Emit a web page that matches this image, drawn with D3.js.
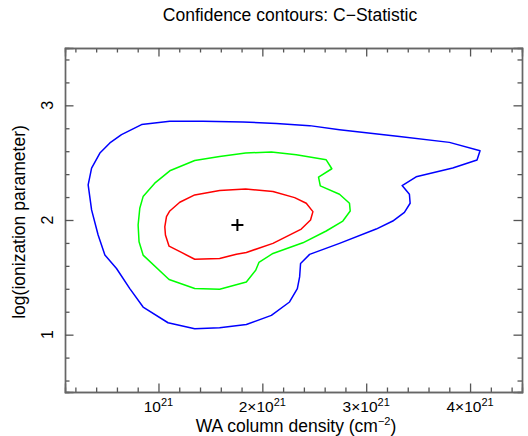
<!DOCTYPE html>
<html>
<head>
<meta charset="utf-8">
<script src="https://cdn.jsdelivr.net/npm/d3@7"></script>
<style>
  body { margin: 0; background: #fff; }
  text { font-family: "Liberation Sans", Arial, Helvetica, sans-serif; fill: #000; }
  .frame .domain { stroke: #666; stroke-width: 1.4; }
  .frame .tick line { stroke: #555; stroke-width: 1.3; }
</style>
</head>
<body>
<svg data-chart></svg>
<script>
// column density in units of 1e21 cm^-2, y = log(ionization parameter)
const bestFit = [1.76, 1.956];

const redX = [1.349, 1.589, 1.839, 2.102, 2.311, 2.423, 2.487, 2.464, 2.375, 2.102, 1.846, 1.750, 1.589, 1.349, 1.221, 1.102, 1.067, 1.061, 1.077, 1.109, 1.205];
const redY = [2.219, 2.257, 2.271, 2.248, 2.195, 2.146, 2.073, 2.000, 1.921, 1.796, 1.717, 1.702, 1.665, 1.658, 1.717, 1.772, 1.869, 1.941, 2.029, 2.079, 2.155];

const greenX = [0.852, 0.964, 1.109, 1.349, 1.589, 1.839, 2.087, 2.327, 2.615, 2.669, 2.541, 2.558, 2.743, 2.839, 2.846, 2.775, 2.615, 2.390, 2.102, 1.967, 1.936, 1.846, 1.589, 1.349, 1.102, 0.852, 0.813, 0.804, 0.820];
const greenY = [2.204, 2.321, 2.429, 2.519, 2.554, 2.584, 2.593, 2.569, 2.525, 2.447, 2.374, 2.298, 2.225, 2.146, 2.079, 1.991, 1.904, 1.801, 1.708, 1.630, 1.562, 1.460, 1.396, 1.402, 1.481, 1.694, 1.810, 1.956, 2.102];

const blueX = [2.455, 2.743, 3.320, 3.801, 4.096, 4.067, 3.833, 3.481, 3.346, 3.416, 3.423, 3.368, 3.256, 3.096, 2.743, 2.455, 2.368, 2.359, 2.337, 2.262, 2.087, 1.846, 1.589, 1.349, 1.092, 0.852, 0.724, 0.596, 0.484, 0.419, 0.356, 0.323, 0.356, 0.436, 0.532, 0.644, 0.837, 1.109, 1.429, 1.813, 2.135];
const blueY = [2.823, 2.788, 2.729, 2.677, 2.604, 2.523, 2.453, 2.377, 2.300, 2.225, 2.146, 2.067, 1.991, 1.921, 1.796, 1.700, 1.621, 1.504, 1.402, 1.285, 1.168, 1.089, 1.060, 1.052, 1.104, 1.241, 1.402, 1.577, 1.694, 1.869, 2.088, 2.306, 2.453, 2.584, 2.672, 2.744, 2.832, 2.861, 2.861, 2.855, 2.841];

const xMajor = [1, 2, 3, 4];
const yMajor = [1, 2, 3];
const xMinor = d3.range(1, 23).map(i => +(i * 0.2).toFixed(1)).filter(v => !xMajor.includes(v));
const yMinor = d3.range(3, 18).map(i => +(i * 0.2).toFixed(1)).filter(v => !yMajor.includes(v));

const margin = {top: 48, right: 6, bottom: 44, left: 65};
const width = 528 - margin.left - margin.right;
const height = 436 - margin.top - margin.bottom;

const svg = d3.select('[data-chart]')
  .attr('width', 528)
  .attr('height', 436);

const chart = svg.append('g')
  .attr('transform', `translate(${margin.left}, ${margin.top})`);

const x = d3.scaleLinear().domain([0.1, 4.5]).range([0, width]);
const y = d3.scaleLinear().domain([0.5, 3.5]).range([height, 0]);

// frame: four axes with ticks pointing inwards
function frame(axis, scale, minor, major, g) {
  g.append('g').call(axis(scale).tickValues(minor).tickSize(-4.5).tickFormat(''));
  g.append('g').call(axis(scale).tickValues(major).tickSize(-8.5).tickFormat(''));
}

const axisB = chart.append('g').attr('class', 'frame').attr('transform', `translate(0, ${height})`);
frame(d3.axisBottom, x, xMinor, xMajor, axisB);
const axisT = chart.append('g').attr('class', 'frame');
frame(d3.axisTop, x, xMinor, xMajor, axisT);
const axisL = chart.append('g').attr('class', 'frame');
frame(d3.axisLeft, y, yMinor, yMajor, axisL);
const axisR = chart.append('g').attr('class', 'frame').attr('transform', `translate(${width}, 0)`);
frame(d3.axisRight, y, yMinor, yMajor, axisR);

// tick labels
axisB.selectAll('.xlab')
    .data(xMajor)
  .enter().append('text')
    .attr('class', 'xlab')
    .attr('x', d => x(d))
    .attr('y', 20)
    .style('text-anchor', 'middle')
    .style('font-size', '15.5px')
    .each(function(d) {
      const t = d3.select(this);
      t.append('tspan').text(d === 1 ? '10' : d + '×10');
      t.append('tspan').attr('dy', -6).style('font-size', '11px').text('21');
    });

axisL.selectAll('.ylab')
    .data(yMajor)
  .enter().append('text')
    .attr('class', 'ylab')
    .attr('transform', d => `translate(-12, ${y(d)}) rotate(-90)`)
    .style('text-anchor', 'middle')
    .style('font-size', '16px')
    .text(d => d);

// contours
const line = d3.line()
  .x(d => x(d[0]))
  .y(d => y(d[1]))
  .curve(d3.curveLinearClosed);

const contours = [
  {xs: blueX, ys: blueY, color: '#0000ff'},
  {xs: greenX, ys: greenY, color: '#00ff00'},
  {xs: redX, ys: redY, color: '#ff0000'}
];

chart.selectAll('.contour')
    .data(contours)
  .enter().append('path')
    .attr('class', 'contour')
    .attr('d', c => line(c.xs.map((v, i) => [v, c.ys[i]])))
    .attr('fill', 'none')
    .attr('stroke', c => c.color)
    .attr('stroke-width', 1.5)
    .attr('stroke-linejoin', 'round');

chart.append('path')
  .attr('d', 'M-6,0H6M0,-6V6')
  .attr('transform', `translate(${x(bestFit[0])}, ${y(bestFit[1])})`)
  .attr('stroke', '#000')
  .attr('stroke-width', 2);

// titles
svg.append('text')
  .attr('x', 290)
  .attr('y', 21)
  .style('text-anchor', 'middle')
  .style('font-size', '17.5px')
  .text('Confidence contours: C\u2212Statistic');

const xl = svg.append('text')
  .attr('x', 296)
  .attr('y', 432)
  .style('text-anchor', 'middle')
  .style('font-size', '17.5px');
xl.append('tspan').text('WA column density (cm');
xl.append('tspan').attr('dy', -7).style('font-size', '11px').text('\u22122');
xl.append('tspan').attr('dy', 7).text(')');

svg.append('text')
  .attr('transform', 'translate(25, 222) rotate(-90)')
  .style('text-anchor', 'middle')
  .style('font-size', '17.5px')
  .text('log(ionization parameter)');
</script>
</body>
</html>
